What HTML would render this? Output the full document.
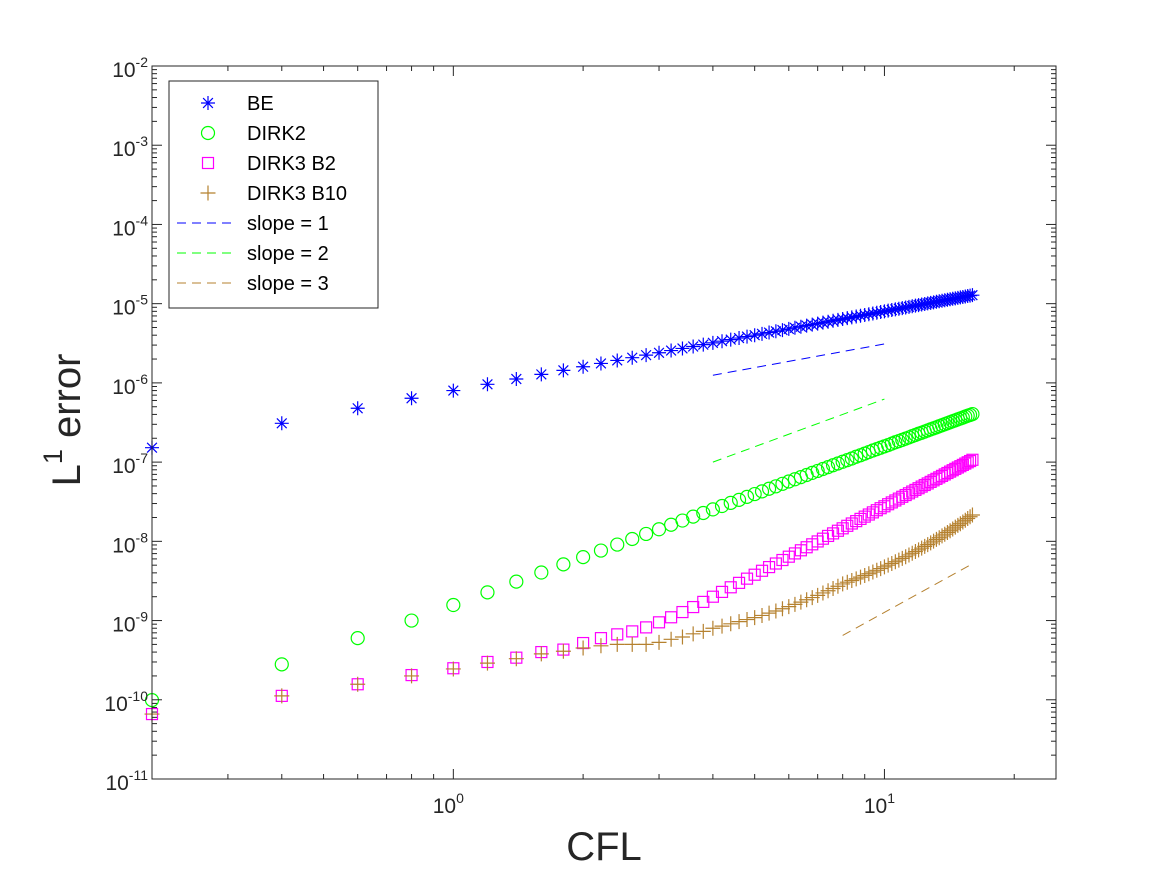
<!DOCTYPE html>
<html><head><meta charset="utf-8"><style>
html,body{margin:0;padding:0;background:#fff;}
svg{display:block;font-family:"Liberation Sans",Arial,sans-serif;}
</style></head><body>
<svg id="chart" width="1167" height="875" viewBox="0 0 1167 875" xmlns="http://www.w3.org/2000/svg">
<rect x="0" y="0" width="1167" height="875" fill="#fff"/>
<g id="grid"></g>
<g id="marks"></g>
<g id="axes"></g>
<g id="legend"></g>
</svg>
<script>
// ---------- data ----------
const cflValues = [];
for (let k = 1; k <= 80; k++) cflValues.push(+(0.2 * k).toFixed(1));
// BE errors (x1e-6)
const beErr = [0.152,0.309,0.478,0.64,0.80,0.96,1.12,1.28,1.44,1.60,1.76,1.92,2.08,2.24,2.40,2.56,2.72,2.88,3.04,3.20,3.36,3.52,3.68,3.84,4.00,4.16,4.32,4.48,4.64,4.80,4.96,5.12,5.28,5.44,5.60,5.76,5.92,6.08,6.24,6.40,6.56,6.72,6.88,7.04,7.20,7.36,7.52,7.68,7.84,8.00,8.16,8.32,8.48,8.64,8.80,8.96,9.12,9.28,9.44,9.60,9.76,9.92,10.08,10.24,10.40,10.56,10.72,10.88,11.04,11.20,11.36,11.52,11.68,11.84,12.00,12.16,12.32,12.48,12.64,12.80];
// DIRK2 errors (x1e-9)
const dirk2Err = [0.099,0.28,0.60,1.0,1.57,2.27,3.10,4.04,5.12,6.32,7.65,9.10,10.7,12.4,14.2,16.2,18.3,20.5,22.8,25.3,27.9,30.6,33.4,36.4,39.5,42.7,46.1,49.5,53.2,56.9,60.7,64.7,68.8,73.1,77.4,81.9,86.5,91.3,96.1,101,106,111,117,122,128,134,140,146,152,158,164,171,178,184,191,198,205,213,220,228,235,243,251,259,267,275,284,292,301,310,319,328,337,346,356,365,375,385,394,404];
// DIRK3 B2 errors (x1e-10)
const dirk3b2Err = [0.66,1.12,1.57,2.05,2.5,3.0,3.4,4.0,4.3,5.2,6.0,6.7,7.3,8.2,9.5,11,12.8,14.8,17.2,20,23.0,26.3,29.9,33.8,37.9,42.5,47.3,52.5,58.1,64.0,70.4,77.1,84.2,91.7,99.7,108,117,126,136,146,157,168,180,192,205,218,232,247,262,277,294,310,328,346,365,384,404,425,446,468,491,514,538,563,589,615,642,670,699,729,759,790,822,855,888,922,958,994,1031,1070];
// DIRK3 B10 errors (x1e-10)
const dirk3b10Err = [0.66,1.12,1.57,2.0,2.45,2.9,3.3,3.8,4.1,4.5,4.8,5.0,5.0,5.0,5.3,5.8,6.2,6.8,7.3,8.0,8.5,9.1,9.7,10.3,10.9,11.6,12.4,13.2,14.1,15.0,16.0,17.1,18.3,19.5,20.8,22.3,23.8,25.4,27.1,29,30.5,32,33.6,35.3,37.1,39,41,43.1,45.3,47.6,50,52.5,55.2,58,60.9,64,67.3,70.7,74.3,78,82,86.3,90.8,95.5,100.5,105.7,111,117,123,129.5,136,143,151,159,167,175.6,184.7,194.3,204.4,215];
// reference slope lines: [x0, x1], [y0, y1]
const slope1X = [4, 10];  const slope1Y = [1.25e-6, 3.1e-6];
const slope2X = [4, 10];  const slope2Y = [1.0e-7, 6.25e-7];
const slope3X = [8, 16];  const slope3Y = [6.5e-10, 5.2e-9];
const xTickExp = [0, 1];
const yTickExp = [-11,-10,-9,-8,-7,-6,-5,-4,-3,-2];
const legendLabels = ["BE","DIRK2","DIRK3 B2","DIRK3 B10","slope = 1","slope = 2","slope = 3"];

// ---------- axes ----------
const L = 152, R = 1056, T = 66, B = 779;
const xMin = Math.log10(0.2), xMax = Math.log10(25);
const yMin = -11, yMax = -2;
const xs = v => L + (Math.log10(v) - xMin) / (xMax - xMin) * (R - L);
const ys = v => B - (Math.log10(v) - yMin) / (yMax - yMin) * (B - T);
const NS = "http://www.w3.org/2000/svg";
function mk(tag, attrs, parent) {
  const e = document.createElementNS(NS, tag);
  for (const k in attrs) e.setAttribute(k, attrs[k]);
  parent.appendChild(e);
  return e;
}
const axes = document.getElementById('axes');
const marks = document.getElementById('marks');
const legend = document.getElementById('legend');
const AX = "#262626";

const frame = mk('rect', {x:L, y:T, width:R-L, height:B-T, fill:'none', stroke:AX, 'stroke-width':1}, axes);



// x ticks
const xMinorVals = [0.3,0.4,0.5,0.6,0.7,0.8,0.9,2,3,4,5,6,7,8,9,20];
xMinorVals.forEach(v => {
  const x = xs(v);
  const t1 = mk('line', {x1:x, y1:B, x2:x, y2:B-5, stroke:AX}, axes);
  
  
  const t2 = mk('line', {x1:x, y1:T, x2:x, y2:T+5, stroke:AX}, axes);
  
  
});
xTickExp.forEach(e => {
  const x = xs(Math.pow(10, e));
  const t1 = mk('line', {x1:x, y1:B, x2:x, y2:B-10, stroke:AX}, axes);
  
  
  const t2 = mk('line', {x1:x, y1:T, x2:x, y2:T+10, stroke:AX}, axes);
  
  
  const tx = mk('text', {x:x-5, y:813, 'font-size':21, fill:AX, 'text-anchor':'middle'}, axes);
  
  
  tx.textContent = '10';
  const sp = mk('tspan', {'font-size':14, dy:-10}, tx);
  sp.textContent = String(e);
});
// y ticks
yTickExp.forEach(e => {
  const y = ys(Math.pow(10, e));
  const t1 = mk('line', {x1:L, y1:y, x2:L+10, y2:y, stroke:AX}, axes);
  
  
  const t2 = mk('line', {x1:R, y1:y, x2:R-10, y2:y, stroke:AX}, axes);
  
  
  const tx = mk('text', {x:148, y:y+11, 'font-size':21, fill:AX, 'text-anchor':'end'}, axes);
  
  
  tx.textContent = '10';
  const sp = mk('tspan', {'font-size':14, dy:-10}, tx);
  sp.textContent = String(e);
  if (e < yMax) {
    for (let m = 2; m <= 9; m++) {
      const yy = ys(m * Math.pow(10, e));
      const a = mk('line', {x1:L, y1:yy, x2:L+5, y2:yy, stroke:AX}, axes);
      
      
      const b = mk('line', {x1:R, y1:yy, x2:R-5, y2:yy, stroke:AX}, axes);
      
      
    }
  }
});
const xTitle = mk('text', {x:604, y:860, 'font-size':40, fill:AX, 'text-anchor':'middle'}, axes);


xTitle.textContent = 'CFL';
const yTitle = mk('text', {x:0, y:0, 'font-size':40, fill:AX, 'text-anchor':'middle', transform:'translate(80,420) rotate(-90)'}, axes);


yTitle.textContent = 'L';
const ysup = mk('tspan', {'font-size':27, dy:-18}, yTitle);
ysup.textContent = '1';
const yrest = mk('tspan', {dy:18}, yTitle);
yrest.textContent = ' error';

// ---------- markers ----------
const C_BE = '#0000ff', C_D2 = '#00ff00', C_B2 = '#ff00ff', C_B10 = '#b5812f';
function star(g, x, y, s, c) {
  const d = `M${x-s},${y}H${x+s}M${x},${y-s}V${y+s}M${x-s*0.7},${y-s*0.7}L${x+s*0.7},${y+s*0.7}M${x-s*0.7},${y+s*0.7}L${x+s*0.7},${y-s*0.7}`;
  return mk('path', {d, stroke:c, 'stroke-width':1.2, fill:'none'}, g);
}
function circ(g, x, y, r, c) { return mk('circle', {cx:x, cy:y, r, stroke:c, 'stroke-width':1.2, fill:'none'}, g); }
function sq(g, x, y, s, c) { return mk('rect', {x:x-s, y:y-s, width:2*s, height:2*s, stroke:c, 'stroke-width':1.2, fill:'none'}, g); }
function plus(g, x, y, s, c) { return mk('path', {d:`M${x-s},${y}H${x+s}M${x},${y-s}V${y+s}`, stroke:c, 'stroke-width':1.2, fill:'none'}, g); }

function series(name, vals, scale, fn, size, color) {
  const g = mk('g', {}, marks);
  
  
  vals.forEach((v, i) => {
    const m = fn(g, xs(cflValues[i]), ys(v * scale), size, color);
    
    
  });
}
series('dirk2-series', dirk2Err, 1e-9, circ, 6.5, C_D2);
series('dirk3-b2-series', dirk3b2Err, 1e-10, sq, 5.5, C_B2);
series('dirk3-b10-series', dirk3b10Err, 1e-10, plus, 7.5, C_B10);
series('be-series', beErr, 1e-6, star, 7, C_BE);

function refLine(name, X, Y, c) {
  const l = mk('line', {x1:xs(X[0]), y1:ys(Y[0]), x2:xs(X[1]), y2:ys(Y[1]), stroke:c, 'stroke-width':1, 'stroke-dasharray':'9,6'}, marks);
  
  
}
refLine('slope-1-line', slope1X, slope1Y, C_BE);
refLine('slope-2-line', slope2X, slope2Y, C_D2);
refLine('slope-3-line', slope3X, slope3Y, C_B10);

// ---------- legend ----------
const lb = mk('rect', {x:169, y:81, width:209, height:227, fill:'#fff', stroke:AX, 'stroke-width':1}, legend);


const legFns = [
  (g,y)=>star(g,208,y,7,C_BE), (g,y)=>circ(g,208,y,6.5,C_D2), (g,y)=>sq(g,208,y,5.5,C_B2), (g,y)=>plus(g,208,y,7.5,C_B10),
  (g,y)=>mk('line',{x1:177,y1:y,x2:235,y2:y,stroke:C_BE,'stroke-dasharray':'9,6'},g),
  (g,y)=>mk('line',{x1:177,y1:y,x2:235,y2:y,stroke:C_D2,'stroke-dasharray':'9,6'},g),
  (g,y)=>mk('line',{x1:177,y1:y,x2:235,y2:y,stroke:C_B10,'stroke-dasharray':'9,6'},g)
];
legendLabels.forEach((lab, i) => {
  const y = 103 + i * 30;
  const g = mk('g', {}, legend);
  
  
  legFns[i](g, y);
  const t = mk('text', {x:247, y:y+7, 'font-size':20, fill:'#000'}, g);
  
  
  t.textContent = lab;
});
</script>
</body></html>
